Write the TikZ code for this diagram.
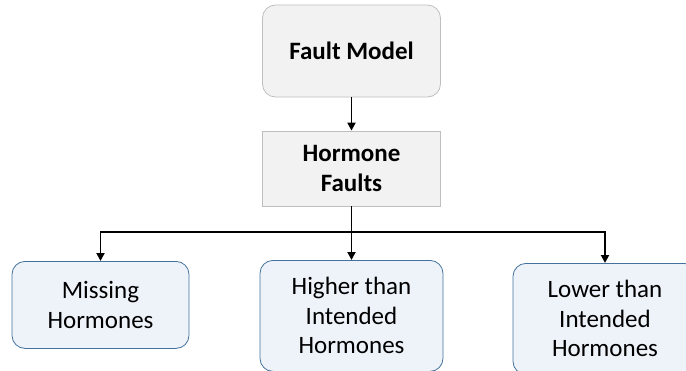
\documentclass[tikz,border=0pt]{standalone}
\usepackage{fontspec}
\setmainfont{Carlito}
\usetikzlibrary{arrows.meta,positioning}

\definecolor{graybox}{HTML}{F2F2F2}
\definecolor{grayline}{HTML}{BFBFBF}
\definecolor{bluebox}{HTML}{EEF3FA}
\definecolor{blueline}{HTML}{41719C}

\tikzset{
  topbox/.style={draw=grayline, fill=graybox, line width=0.8pt,
    align=center, font=\fontsize{25}{29.5}\selectfont\bfseries, inner sep=0pt},
  leafbox/.style={draw=blueline, fill=bluebox, line width=0.8pt, rounded corners=13pt,
    align=center, font=\fontsize{25}{29.5}\selectfont, inner sep=0pt, anchor=north},
  arr/.style={line width=1.9pt, -{Triangle[length=8pt,width=8pt]}},
}

\begin{document}
\begin{tikzpicture}[x=1pt, y=-1pt]
  \useasboundingbox (0,0) rectangle (686,370);

  \node[topbox, rounded corners=13pt, minimum width=178pt, minimum height=92pt]
    (fault) at (351.5,51) {Fault Model};
  \node[topbox, minimum width=178pt, minimum height=75pt]
    (hormone) at (351.5,168.5) {Hormone\\Faults};

  \coordinate (split) at (351.5,232);

  \node[leafbox, minimum width=177pt, minimum height=87pt]
    (missing) at (100.5,261) {Missing\\Hormones};
  \node[leafbox, minimum width=183pt, minimum height=111pt]
    (higher) at (351.5,260) {Higher than\\Intended\\Hormones};
  \node[leafbox, minimum width=184pt, minimum height=111pt]
    (lower) at (605,263) {Lower than\\Intended\\Hormones};

  % connectors
  \draw[arr] (fault) -- (hormone);
  \draw[line width=1.9pt] (hormone) -- (split);
  \draw[arr] (split) -| (missing);
  \draw[arr] (split) -- (higher);
  \draw[arr] (split) -| (lower);
\end{tikzpicture}
\end{document}
